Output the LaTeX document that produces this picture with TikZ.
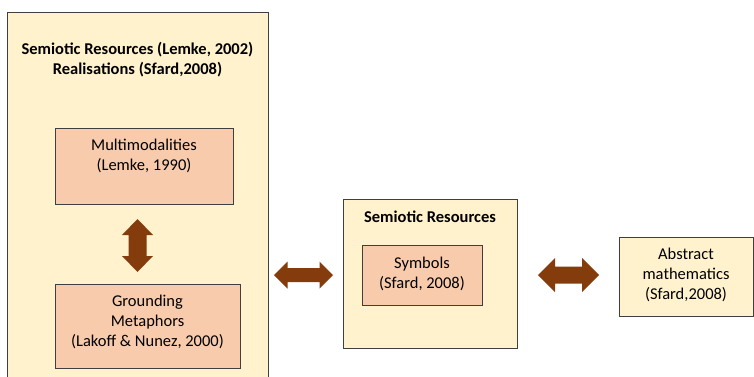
\documentclass[tikz,border=0pt]{standalone}
\usepackage{fontspec}
\setmainfont{Carlito}
\definecolor{cream}{HTML}{FFF2CC}
\definecolor{peach}{HTML}{F8CBAD}
\definecolor{arrowbrown}{HTML}{843C0C}
\definecolor{edge}{HTML}{3F3F3F}
\tikzset{
  outerbox/.style={draw=edge, fill=cream, line width=0.9pt},
  innerbox/.style={draw=edge, fill=peach, line width=0.9pt},
  txt/.style={align=center, inner sep=0pt, font=\fontsize{16.5}{20}\selectfont, text=black},
  ttl/.style={align=center, inner sep=0pt, font=\fontsize{16.5}{20}\selectfont\bfseries, text=black},
  blockarrow/.style={fill=arrowbrown, draw=none}
}
\begin{document}
\begin{tikzpicture}[x=1pt,y=-1pt]
\clip (0,0) rectangle (754,376);
\fill[white] (0,0) rectangle (754,376);
% left big box
\draw[outerbox] (7,12) rectangle (268,390);
\node[ttl] (lt) at (137.5,60) {Semiotic Resources (Lemke, 2002)\\Realisations (Sfard,2008)};
\draw[innerbox] (55,128) rectangle (233,204);
\node[txt] (mmt) at (144,156) {Multimodalities\\(Lemke, 1990)};
\draw[innerbox] (55,284) rectangle (240,368);
\node[txt] (gm) at (147.5,322) {Grounding\\Metaphors\\(Lakoff \& Nunez, 2000)};
% vertical arrow (centre 137.5,245.5; length 53; head 31; shaft 18; head length 16)
\begin{scope}[shift={(137.5,245.5)}]
\fill[blockarrow] (0,-26.5) -- (15.5,-10.5) -- (9,-10.5) -- (9,10.5) -- (15.5,10.5) -- (0,26.5)
  -- (-15.5,10.5) -- (-9,10.5) -- (-9,-10.5) -- (-15.5,-10.5) -- cycle;
\end{scope}
% left horizontal arrow (centre 303.5,275)
\begin{scope}[shift={(303.5,275)}]
\fill[blockarrow] (-29.5,0) -- (-16,-13.5) -- (-16,-7) -- (16,-7) -- (16,-13.5) -- (29.5,0)
  -- (16,13.5) -- (16,7) -- (-16,7) -- (-16,13.5) -- cycle;
\end{scope}
% middle box
\draw[outerbox] (343,199) rectangle (517,348);
\node[ttl] (mt) at (430,217) {Semiotic Resources};
\draw[innerbox] (362,245) rectangle (482,305);
\node[txt] (sym) at (422,273.5) {Symbols\\(Sfard, 2008)};
% right horizontal arrow (centre 568.5,275)
\begin{scope}[shift={(568.5,275)}]
\fill[blockarrow] (-30.5,0) -- (-13.5,-17) -- (-13.5,-8.5) -- (13.5,-8.5) -- (13.5,-17) -- (30.5,0)
  -- (13.5,17) -- (13.5,8.5) -- (-13.5,8.5) -- (-13.5,17) -- cycle;
\end{scope}
% abstract box
\draw[outerbox] (619,237) rectangle (753,316);
\node[txt] (am) at (686,275) {Abstract\\mathematics\\(Sfard,2008)};
\end{tikzpicture}
\end{document}
